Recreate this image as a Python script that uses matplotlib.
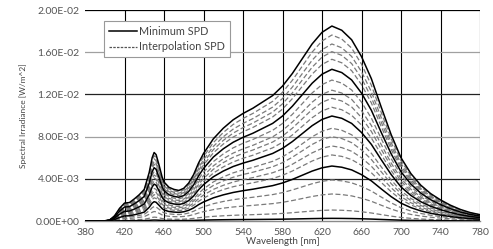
import matplotlib
matplotlib.use("Agg")
import matplotlib.pyplot as plt
import numpy as np
from matplotlib.lines import Line2D

# Wavelength grid (nm) and the top spectral shape, in W/m^2 (x1e-3)
wavelengths = [380, 390, 400, 405, 410, 415, 420, 425, 430, 435, 440, 445, 448, 450,
               452, 455, 458, 460, 465, 470, 475, 480, 485, 490, 495, 500, 510, 520,
               530, 540, 550, 560, 570, 580, 590, 600, 610, 620, 630, 640, 650, 660,
               670, 680, 690, 700, 710, 720, 730, 740, 750, 760, 770, 780]
top_spd_e3 = [0.0, 0.0, 0.02, 0.1, 0.5, 1.2, 1.7, 1.75, 2.1, 2.5, 3.0, 4.6, 6.0, 6.5,
              6.3, 5.3, 4.2, 3.7, 3.2, 3.0, 2.9, 3.1, 3.6, 4.4, 5.5, 6.4, 7.8, 8.8,
              9.6, 10.2, 10.7, 11.3, 11.9, 12.8, 14.0, 15.4, 16.8, 17.9, 18.5, 18.1, 17.2, 15.6,
              13.5, 10.8, 8.2, 6.0, 4.5, 3.4, 2.6, 2.0, 1.5, 1.1, 0.8, 0.6]

# Peak levels (at ~630 nm, x1e-3) of each curve
minimum_levels_e3 = [18.48, 14.38, 9.95, 5.21, 0.25]
interp_levels_e3 = [17.63, 16.78, 16.05, 15.33,
                    13.36, 12.40, 11.63, 10.78,
                    8.79, 7.99, 7.11, 6.26,
                    3.89, 2.56, 1.04]

yticks = [0.0, 0.004, 0.008, 0.012, 0.016, 0.020]
ytick_labels = ["0.00E+00", "4.00E-03", "8.00E-03", "1.20E-02", "1.60E-02", "2.00E-02"]
xticks = list(range(380, 781, 40))

plt.rcParams['font.family'] = ['Lato', 'DejaVu Sans']

fig = plt.figure(figsize=(4.93, 2.49), dpi=100)
ax = fig.add_axes([85/493, 1-221/249, (480-85)/493, (221-10)/249])

wl = np.array(wavelengths)
base = np.array(top_spd_e3) * 1e-3
base_peak = max(top_spd_e3)

for lvl in interp_levels_e3:
    ax.plot(wl, base * lvl / base_peak, color="#7a7a7a", lw=0.9,
            linestyle=(0, (4, 2)), zorder=3)
for lvl in minimum_levels_e3:
    ax.plot(wl, base * lvl / base_peak, color="black", lw=1.1, zorder=4)

ax.set_xlim(380, 780)
ax.set_ylim(0, 0.02)
ax.set_xticks(xticks)
ax.set_yticks(yticks)
ax.set_yticklabels(ytick_labels)

# gridlines
for x in xticks[1:]:
    ax.axvline(x, color="black", lw=0.8, zorder=1)
grid_colors = {0.004: "#222222", 0.008: "#a0a0a0", 0.012: "#222222", 0.016: "#a0a0a0"}
for y, c in grid_colors.items():
    ax.axhline(y, color=c, lw=0.9, zorder=1)
ax.axhline(0.02, color="black", lw=0.9, zorder=1)

for s in ["top", "right", "left"]:
    ax.spines[s].set_visible(False)
ax.spines["bottom"].set_color("#8a8a8a")
ax.spines["bottom"].set_linewidth(1.0)

ax.tick_params(axis="both", length=0, labelsize=7.5, colors="#555555", pad=4)
ax.tick_params(axis="x", pad=5)

ax.set_xlabel("Wavelength [nm]", fontsize=7, color="#444444", labelpad=0)
ax.set_ylabel("Spectral Irradiance [W/m^2]", fontsize=6, color="#444444", labelpad=6)

handles = [Line2D([], [], color="black", lw=1.1),
           Line2D([], [], color="#555555", lw=0.9, linestyle=(0, (2, 1)))]
leg = ax.legend(handles, ["Minimum SPD", "Interpolation SPD"], loc="upper left",
                bbox_to_anchor=(0.035, 0.975), fontsize=7.8, frameon=True,
                fancybox=False, edgecolor="#999999", framealpha=1,
                handlelength=2.6, handletextpad=0.2, borderpad=0.45, labelspacing=0.45)
leg.get_frame().set_linewidth(0.8)
for t in leg.get_texts():
    t.set_color("#444444")
leg.set_zorder(10)

fig.savefig("out.png", dpi=100)
